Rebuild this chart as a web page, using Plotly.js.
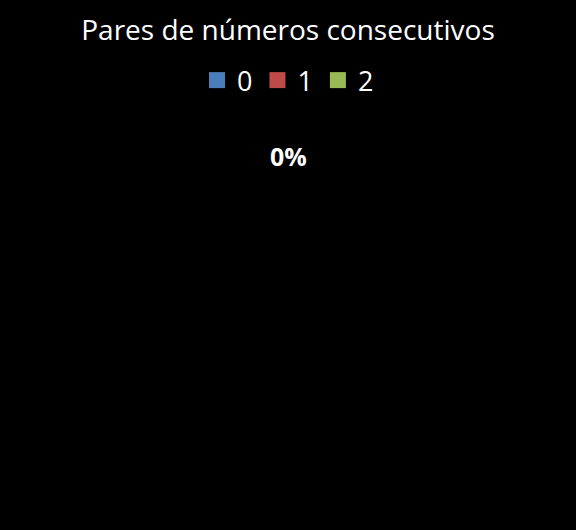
<!DOCTYPE html>
<html>
<head>
<meta charset="utf-8">
<script src="https://cdn.plot.ly/plotly-3.0.1.min.js"></script>
<style>
  html, body { margin: 0; padding: 0; background: #000; }
  #chart { width: 576px; height: 530px; }
</style>
</head>
<body>
<div id="chart"></div>
<script>
const categories = ["0", "1", "2"];
const values = [0, 0, 0];
const sliceColors = ["#4a7ebb", "#be4b48", "#98b954"];

const total = values.reduce((a, b) => a + b, 0);
const pct = total ? Math.round((values[0] / total) * 100) : 0;

// the pie itself (all zero, so nothing gets drawn)
const data = [
  {
    type: "pie",
    labels: categories,
    values: values,
    sort: false,
    direction: "clockwise",
    marker: { colors: sliceColors },
    textinfo: "percent",
    domain: { x: [0.2, 0.8], y: [0, 0.66] },
    showlegend: false,
  },
];

// plotly drops legend items for an all-zero pie, so add marker-only entries
categories.forEach((c, i) => {
  data.push({
    type: "scatter",
    mode: "markers",
    name: c,
    x: [null],
    y: [null],
    marker: { symbol: "square", size: 16, color: sliceColors[i] },
    showlegend: true,
  });
});

const layout = {
  width: 576,
  height: 530,
  paper_bgcolor: "#000000",
  plot_bgcolor: "#000000",
  font: { family: "Open Sans, sans-serif", color: "#ffffff" },
  title: {
    text: "Pares de números consecutivos",
    font: { size: 28, color: "#ffffff" },
    x: 0.5,
    xanchor: "center",
    y: 0.943,
    yanchor: "middle",
  },
  xaxis: { visible: false },
  yaxis: { visible: false },
  showlegend: true,
  legend: {
    orientation: "h",
    x: 0.5,
    xanchor: "center",
    y: 0.848,
    yanchor: "middle",
    font: { size: 27, color: "#ffffff" },
    bgcolor: "rgba(0,0,0,0)",
    itemwidth: 30,
  },
  annotations: [
    {
      text: "<b>" + pct + "%</b>",
      xref: "paper",
      yref: "paper",
      x: 0.5,
      y: 0.706,
      yanchor: "middle",
      showarrow: false,
      font: { size: 25, color: "#ffffff" },
    },
  ],
  margin: { l: 0, r: 0, t: 0, b: 0 },
};

Plotly.newPlot("chart", data, layout, { displayModeBar: false });
</script>
</body>
</html>
